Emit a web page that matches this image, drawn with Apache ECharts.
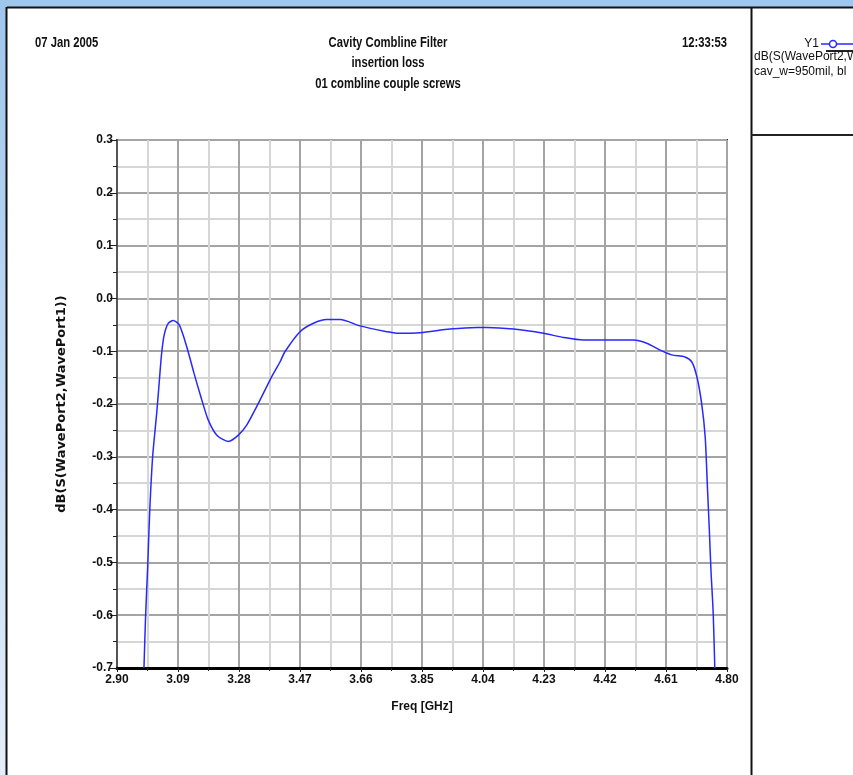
<!DOCTYPE html>
<html>
<head>
<meta charset="utf-8">
<script src="https://cdn.jsdelivr.net/npm/echarts@6/dist/echarts.min.js"></script>
<style>
html,body{margin:0;padding:0;background:#fff;}
#chart{width:853px;height:775px;}
</style>
</head>
<body>
<div id="chart"></div>
<script>
// ---- data ----
var freqGHz = [2.984, 2.989, 2.996, 3.002, 3.011, 3.024, 3.032, 3.039, 3.047, 3.060,
  3.075, 3.094, 3.117, 3.140, 3.164, 3.184, 3.211, 3.247, 3.278, 3.304,
  3.335, 3.382, 3.408, 3.423, 3.470, 3.512, 3.553, 3.595, 3.657, 3.740,
  3.771, 3.844, 3.937, 4.021, 4.052, 4.135, 4.228, 4.290, 4.353, 4.508,
  4.550, 4.592, 4.628, 4.669, 4.690, 4.706, 4.721, 4.732, 4.739, 4.745,
  4.750, 4.757, 4.762];
var insertionLossDB = [-0.700, -0.603, -0.501, -0.402, -0.300, -0.215, -0.155, -0.104, -0.069, -0.047,
  -0.042, -0.050, -0.091, -0.142, -0.192, -0.230, -0.259, -0.271, -0.259, -0.240,
  -0.205, -0.148, -0.120, -0.101, -0.063, -0.047, -0.040, -0.040, -0.052, -0.063,
  -0.066, -0.065, -0.058, -0.055, -0.055, -0.058, -0.066, -0.074, -0.079, -0.079,
  -0.085, -0.098, -0.107, -0.111, -0.120, -0.148, -0.199, -0.262, -0.357, -0.439,
  -0.514, -0.596, -0.700];
var xTickStart = 2.90;   // first x tick label (GHz)
var xTickStep = 0.19;    // x tick spacing (GHz)
var xTickCount = 10;     // number of x intervals -> last label 4.80
var yMin = -0.7, yMax = 0.3, yStep = 0.1;

var headerDate = "07 Jan 2005";
var headerTime = "12:33:53";
var titleLines = ["Cavity Combline Filter", "insertion loss", "01 combline couple screws"];
var xName = "Freq [GHz]";
var yName = "dB(S(WavePort2,WavePort1))";
var legendName = "Y1";
var legendLines = ["dB(S(WavePort2,WavePort1))", "cav_w=950mil, bl"];

// ---- build ----
var sans = '"Liberation Sans",Arial,sans-serif';
var seriesData = freqGHz.map(function (f, i) { return [f - xTickStart, insertionLossDB[i]]; });

var chart = echarts.init(document.getElementById('chart'), null, {renderer: 'canvas'});

function narrowText(txt, x, y, align) {
  return {type: 'text', x: x, y: y, scaleX: 0.75, scaleY: 1.0,
    style: {text: txt, x: 0, y: 0, textAlign: align, textVerticalAlign: 'middle',
      font: 'bold 15px ' + sans, fill: '#111'}};
}

var graphics = [
  {type: 'rect', z: -10, silent: true, shape: {x: 0, y: 0, width: 853, height: 775},
    style: {fill: new echarts.graphic.LinearGradient(0, 0, 0, 1, [
      {offset: 0, color: '#9fc6ec'}, {offset: 1, color: '#e4eef9'}])}},
  {type: 'rect', z: -9, silent: true, shape: {x: 7, y: 7, width: 846, height: 768},
    style: {fill: '#ffffff'}},
  {type: 'line', z: -8, silent: true, shape: {x1: 7, y1: 7.5, x2: 853, y2: 7.5}, style: {stroke: '#111', lineWidth: 2}},
  {type: 'line', z: -8, silent: true, shape: {x1: 6.5, y1: 7, x2: 6.5, y2: 775}, style: {stroke: '#111', lineWidth: 2}},
  {type: 'line', z: -8, silent: true, shape: {x1: 751.5, y1: 7, x2: 751.5, y2: 775}, style: {stroke: '#111', lineWidth: 2}},
  {type: 'line', z: -8, silent: true, shape: {x1: 751, y1: 135, x2: 853, y2: 135}, style: {stroke: '#222', lineWidth: 2}},
  narrowText(headerDate, 35, 43, 'left'),
  narrowText(headerTime, 727, 43, 'right'),
  narrowText(titleLines[0], 388, 43, 'center'),
  narrowText(titleLines[1], 388, 63, 'center'),
  narrowText(titleLines[2], 388, 84, 'center'),
  {type: 'text', style: {text: legendName, x: 819, y: 44, textAlign: 'right', textVerticalAlign: 'middle',
    font: '12px ' + sans, fill: '#111'}},
  {type: 'line', shape: {x1: 821, y1: 44, x2: 853, y2: 44}, style: {stroke: '#2828ff', lineWidth: 1.5}},
  {type: 'circle', shape: {cx: 833, cy: 44, r: 3.5}, style: {fill: '#fff', stroke: '#2828ff', lineWidth: 1.5}},
  {type: 'line', shape: {x1: 826, y1: 51, x2: 853, y2: 51}, style: {stroke: '#222', lineWidth: 2}},
  {type: 'text', style: {text: legendLines[0], x: 754, y: 57, textAlign: 'left', textVerticalAlign: 'middle',
    font: '12px ' + sans, fill: '#111'}},
  {type: 'text', style: {text: legendLines[1], x: 754, y: 72, textAlign: 'left', textVerticalAlign: 'middle',
    font: '12px ' + sans, fill: '#111'}}
];

var option = {
  animation: false,
  backgroundColor: 'transparent',
  graphic: graphics,
  grid: {left: 117, right: 126, top: 140, bottom: 107, show: true,
    borderColor: '#222', borderWidth: 2, backgroundColor: 'transparent'},
  xAxis: {
    type: 'value', min: 0, max: +(xTickStep * xTickCount).toFixed(2), interval: xTickStep,
    name: xName, nameLocation: 'middle', nameGap: 33,
    nameTextStyle: {fontFamily: sans, fontWeight: 'bold', fontSize: 12, color: '#111'},
    axisLine: {show: true, onZero: false, lineStyle: {color: '#000', width: 3}},
    axisTick: {show: true, length: 4, lineStyle: {color: '#222'}},
    minorTick: {show: true, splitNumber: 2, length: 3, lineStyle: {color: '#222'}},
    axisLabel: {margin: 6, fontFamily: sans, fontWeight: 'bold', fontSize: 12, color: '#111',
      formatter: function (v) { return (v + xTickStart).toFixed(2); }},
    splitLine: {show: true, lineStyle: {color: '#a4a4a4', width: 2}},
    minorSplitLine: {show: true, lineStyle: {color: '#d6d6d6', width: 2}}
  },
  yAxis: {
    type: 'value', min: yMin, max: yMax, interval: yStep,
    name: yName, nameLocation: 'middle', nameGap: 49, nameRotate: 90,
    nameTextStyle: {fontFamily: '"DejaVu Sans",sans-serif', fontWeight: 'bold', fontSize: 13, color: '#111'},
    axisLine: {show: true, onZero: false, lineStyle: {color: '#555', width: 2}},
    axisTick: {show: true, length: 7, lineStyle: {color: '#222'}},
    minorTick: {show: true, splitNumber: 2, length: 4, lineStyle: {color: '#222'}},
    axisLabel: {margin: 4, fontFamily: sans, fontWeight: 'bold', fontSize: 12, color: '#111',
      formatter: function (v) { var s = v.toFixed(1); return s === '-0.0' ? '0.0' : s; }},
    splitLine: {show: true, lineStyle: {color: '#a4a4a4', width: 2}},
    minorSplitLine: {show: true, lineStyle: {color: '#d6d6d6', width: 2}}
  },
  series: [{
    type: 'line', data: seriesData, showSymbol: false, symbol: 'none',
    smooth: 0.25, clip: true,
    lineStyle: {color: '#2828ff', width: 1.5}
  }]
};
chart.setOption(option);
</script>
</body>
</html>
